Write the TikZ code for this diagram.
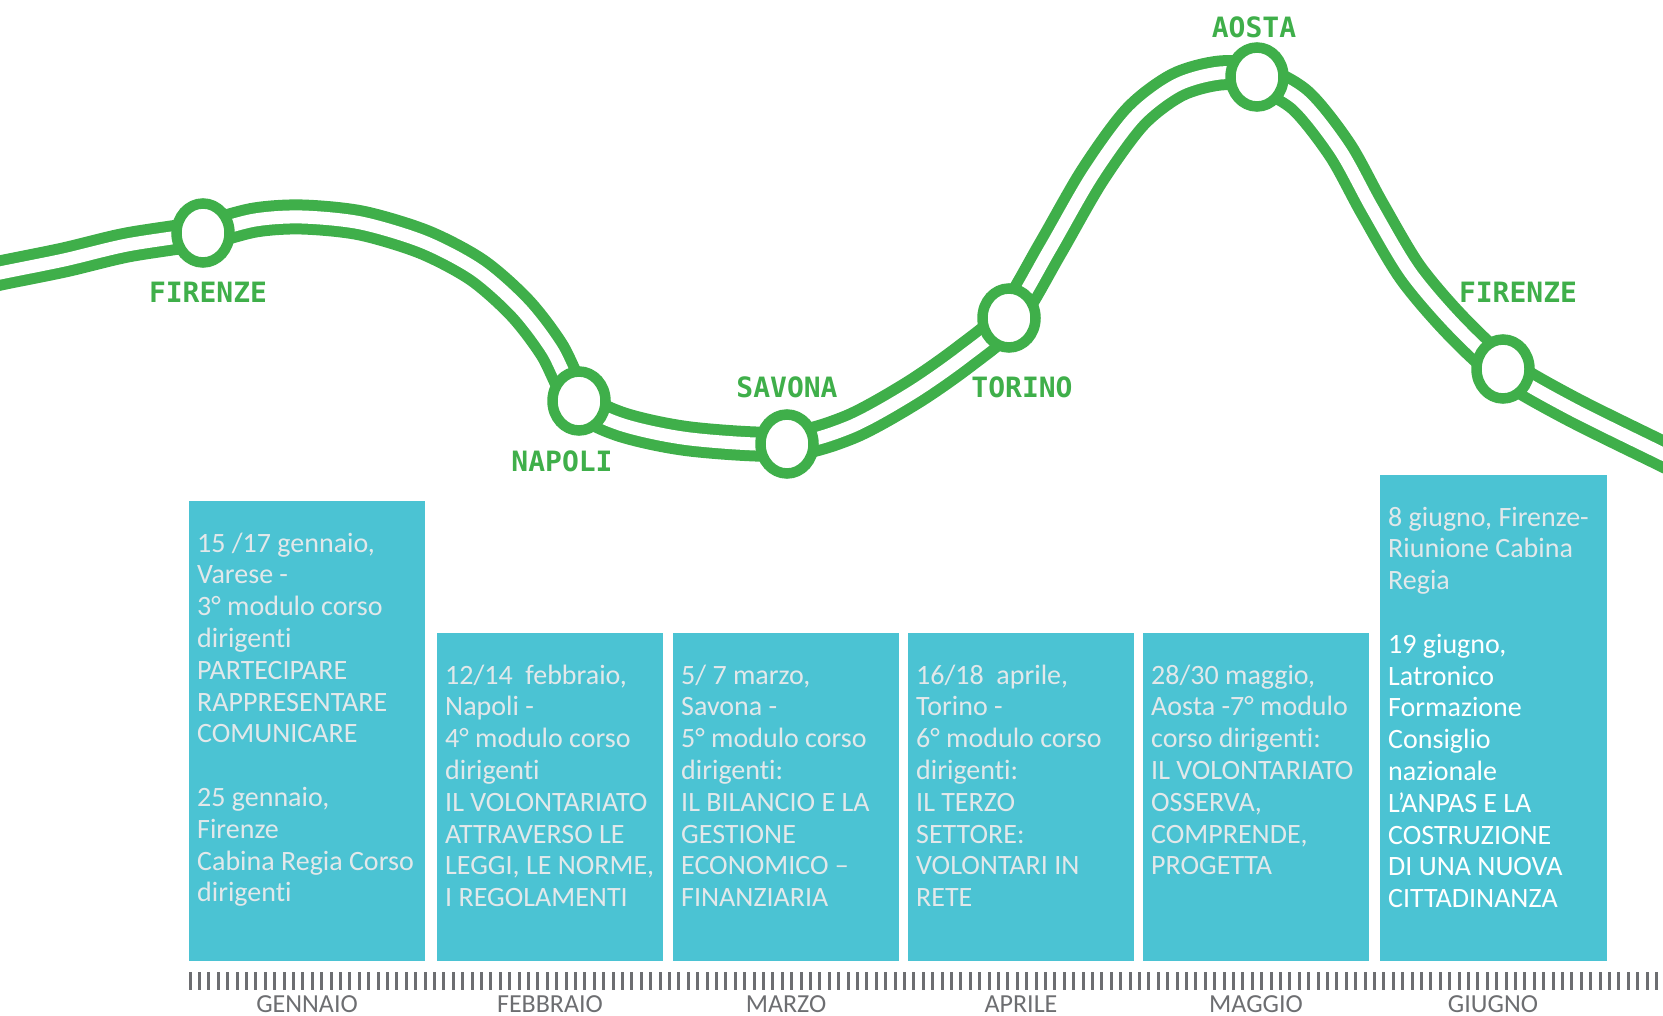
\documentclass[tikz,border=0pt]{standalone}
\usepackage{fontspec}
\setmainfont{Carlito}[Ligatures=CommonOff]
\newfontfamily\cityfont{DejaVu Sans Mono}
\usetikzlibrary{shapes.geometric}
\definecolor{linegreen}{HTML}{3FAF4A}
\definecolor{boxblue}{HTML}{4BC3D3}
\definecolor{monthgrey}{HTML}{6D6E71}
\definecolor{boxtext}{HTML}{E2E8EA}

\begin{document}
\begin{tikzpicture}[x=1pt,y=-1pt,
  station/.style={ellipse,draw=linegreen,line width=10.5pt,fill=white,minimum width=53pt,minimum height=59pt,inner sep=0pt},
  city/.style={text=linegreen,font=\cityfont\bfseries\fontsize{28}{30}\selectfont},
  evtext/.style={anchor=north west,align=left,inner sep=0pt,text=boxtext,font=\fontsize{28}{31.8}\selectfont},
  month/.style={anchor=base,text=monthgrey,font=\fontsize{26}{28}\selectfont}]
          %\draw[help lines,step=100] (0,0) grid (1663,1016);
          \useasboundingbox (0,0) rectangle (1663,1016);

          %stations
          \coordinate (firenzeA) at (203,233);
          \coordinate (napoli) at (579,401);
          \coordinate (savona) at (787,444);
          \coordinate (torino) at (1009,318);
          \coordinate (aosta) at (1257,77);
          \coordinate (firenzeB) at (1503,369);

          %track
          \draw[linegreen,line width=11pt,double=white,double distance=13pt]
            plot[smooth,tension=0.5] coordinates {(-30,280) (0,273) (64,260) (127,245) (firenzeA) (255,220) (302,217) (361,223)
              (424,242) (477,270) (520,308) (552,350) (napoli) (620,424) (690,439) (savona) (850,427) (912,393)
              (965,356) (torino) (1050,249) (1092,176) (1135,117) (1177,85) (1220,73) (aosta) (1300,100) (1340,150)
              (1372,208) (1410,272) (1455,325) (firenzeB) (1570,408) (1663,454) (1700,472)};

          \foreach \s in {firenzeA,napoli,savona,torino,aosta,firenzeB}
            \node[station] (\s-c) at (\s) {};

          \node[city] (firenzeA-l) at (208,292) {FIRENZE};
          \node[city] (napoli-l) at (562,461) {NAPOLI};
          \node[city] (savona-l) at (787,387) {SAVONA};
          \node[city] (torino-l) at (1022,387) {TORINO};
          \node[city] (aosta-l) at (1254,27) {AOSTA};
          \node[city] (firenzeB-l) at (1518,292) {FIRENZE};

          %boxes
          \fill[boxblue] (189,501) rectangle (425,961);
          \fill[boxblue] (437,633) rectangle (663,961);
          \fill[boxblue] (673,633) rectangle (899,961);
          \fill[boxblue] (908,633) rectangle (1134,961);
          \fill[boxblue] (1143,633) rectangle (1369,961);
          \fill[boxblue] (1380,475) rectangle (1607,961);

          \node[evtext] (gennaio) at (197,529.7) {\strut 15 /17 gennaio,\\Varese -\\3° modulo corso\\dirigenti\\PARTECIPARE\\RAPPRESENTARE\\COMUNICARE\\[31.8pt]25 gennaio,\\Firenze\\Cabina Regia Corso\\dirigenti};
          \node[evtext] (febbraio) at (445,661.7) {\strut 12/14\ \ febbraio,\\Napoli -\\4° modulo corso\\dirigenti\\IL VOLONTARIATO\\ATTRAVERSO LE\\LEGGI, LE NORME,\\I REGOLAMENTI};
          \node[evtext] (marzo) at (681,661.7) {\strut 5/ 7 marzo,\\Savona -\\5° modulo corso\\dirigenti:\\IL BILANCIO E LA\\GESTIONE\\ECONOMICO –\\FINANZIARIA};
          \node[evtext] (aprile) at (916,661.7) {\strut 16/18\ \ aprile,\\Torino -\\6° modulo corso\\dirigenti:\\IL TERZO\\SETTORE:\\VOLONTARI IN\\RETE};
          \node[evtext] (maggio) at (1151,661.7) {\strut 28/30 maggio,\\Aosta -7° modulo\\corso dirigenti:\\IL VOLONTARIATO\\OSSERVA,\\COMPRENDE,\\PROGETTA};
          \node[evtext] (giugno) at (1388,503.7) {\strut 8 giugno, Firenze-\\Riunione Cabina\\Regia\\[31.8pt]\color{white}19 giugno,\\\color{white}Latronico\\\color{white}Formazione\\\color{white}Consiglio\\\color{white}nazionale\\\color{white}L’ANPAS E LA\\\color{white}COSTRUZIONE\\\color{white}DI UNA NUOVA\\\color{white}CITTADINANZA};

          %timeline
          \foreach \i in {0,...,156}
            \draw[monthgrey,line width=3pt] (190+9.4*\i,972) -- (190+9.4*\i,990);
          \node[month] (m1) at (307,1012) {GENNAIO};
          \node[month] (m2) at (550,1012) {FEBBRAIO};
          \node[month] (m3) at (786,1012) {MARZO};
          \node[month] (m4) at (1021,1012) {APRILE};
          \node[month] (m5) at (1256,1012) {MAGGIO};
          \node[month] (m6) at (1493,1012) {GIUGNO};
\end{tikzpicture}
\end{document}
